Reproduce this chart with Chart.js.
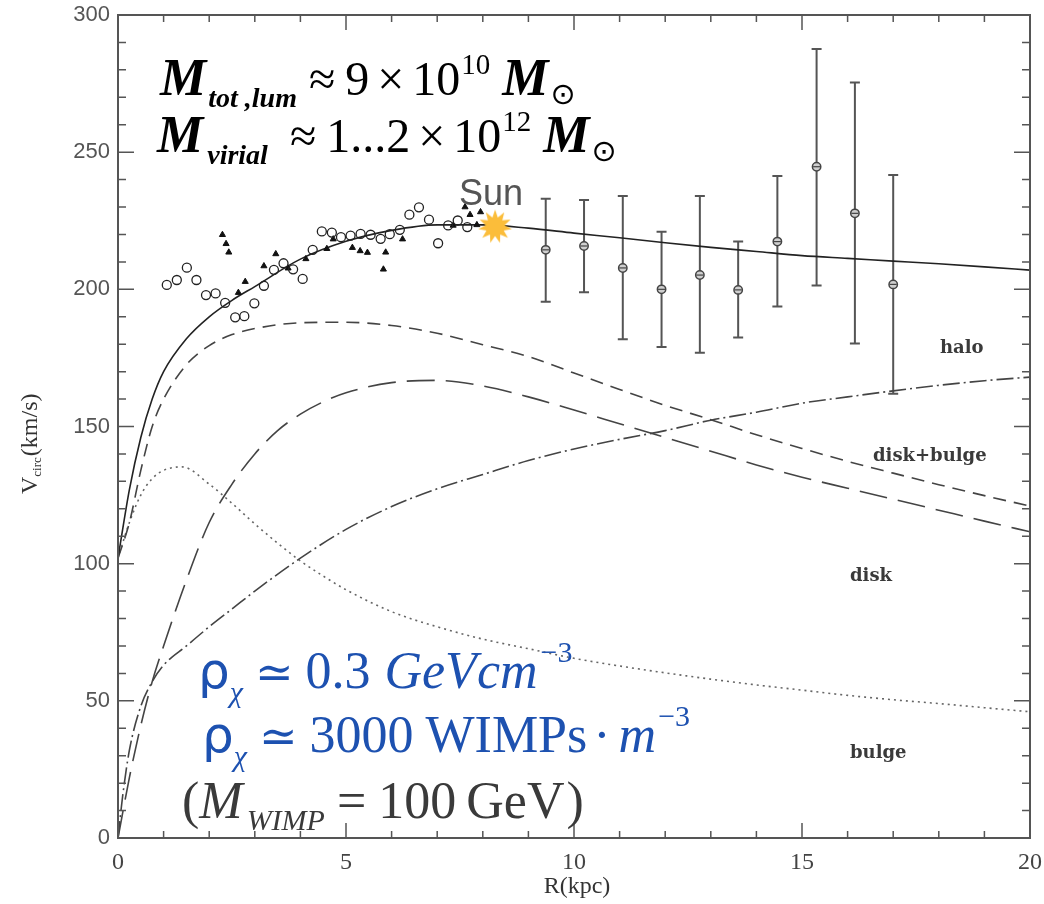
<!DOCTYPE html>
<html><head><meta charset="utf-8">
<script src="https://cdn.jsdelivr.net/npm/chart.js@4.4.1/dist/chart.umd.min.js"></script>
<style>html,body{margin:0;padding:0;background:#fff;}#wrap{width:1044px;height:904px;}</style>
</head><body><div id="wrap"><canvas id="c" width="1044" height="904"></canvas></div>
<script>
// ---- data ----
const xTicks = [0, 5, 10, 15, 20];
const yTicks = [0, 50, 100, 150, 200, 250, 300];

const totalR = [0, 0.25, 0.5, 0.75, 1, 1.5, 2, 2.5, 3, 4, 5, 6, 7, 8, 9, 10, 11, 12, 13, 14, 15, 16, 17, 18, 19, 20];
const totalV = [102, 127, 146, 160, 170, 182, 190, 196, 201, 211, 217.5, 221.5, 223.5, 223.5, 222.3, 220.5, 218.8, 217, 215.3, 213.8, 212.3, 211.3, 210.3, 209.3, 208.2, 207];

const diskBulgeR = [0, 0.25, 0.5, 0.75, 1, 1.5, 2, 2.5, 3, 4, 5, 6, 7, 8, 9, 10, 11, 12, 13, 14, 15, 16, 17, 18, 19, 20];
const diskBulgeV = [102, 115, 134, 150, 160, 172.5, 179.5, 183.5, 185.7, 187.8, 188, 186.8, 184, 179.8, 175.5, 169.5, 163.5, 157.7, 152.5, 147, 142, 137.3, 133, 128.8, 124.8, 121];

const diskR = [0, 0.25, 0.5, 0.75, 1, 1.5, 2, 2.5, 3, 3.5, 4, 4.5, 5, 6, 7, 8, 9, 10, 11, 12, 13, 14, 15, 16, 17, 18, 19, 20];
const diskV = [0, 22, 41, 57, 70, 94, 115, 129, 140, 148.5, 154.5, 159, 162.3, 166, 166.8, 164.8, 160.8, 156, 151, 146, 141, 136, 131.5, 127.5, 123.5, 119.5, 115.5, 111.6];

const haloR = [0, 0.1, 0.25, 0.5, 0.75, 1, 1.5, 2, 2.5, 3, 4, 5, 6, 7, 8, 9, 10, 11, 12, 13, 14, 15, 16, 17, 18, 19, 20];
const haloV = [0, 15, 32, 48, 57, 63, 70, 77, 83.5, 90, 102, 112.5, 120.8, 127.3, 132.5, 137.6, 141.8, 145.3, 148.5, 152.3, 155.2, 158.5, 160.8, 163, 165, 166.7, 168];

const bulgeR = [0, 0.25, 0.5, 0.75, 1, 1.4, 2, 2.5, 3, 3.5, 4, 4.5, 5, 6, 7, 8, 9, 10, 11, 12, 13, 14, 15, 16, 17, 18, 19, 20];
const bulgeV = [102, 115, 125, 131, 134, 135.3, 129, 122, 114.5, 107.5, 101, 95.5, 90.5, 82.5, 77, 72.5, 69, 65.5, 62.7, 60.2, 57.9, 55.8, 53.9, 52, 50.4, 49, 47.5, 46];

const circleR = [1.07, 1.29, 1.51, 1.72, 1.93, 2.14, 2.35, 2.57, 2.77, 2.99, 3.2, 3.42, 3.63, 3.84, 4.05, 4.27, 4.47, 4.69, 4.89, 5.1, 5.32, 5.54, 5.76, 5.96, 6.18, 6.39, 6.6, 6.82, 7.02, 7.24, 7.45, 7.66];
const circleV = [201.6, 203.4, 207.9, 203.4, 197.9, 198.5, 195.1, 189.8, 190.2, 194.9, 201.3, 207.1, 209.5, 207.3, 203.8, 214.4, 221.1, 220.7, 219, 219.6, 220.2, 219.9, 218.4, 220.1, 221.7, 227.2, 229.9, 225.4, 216.8, 223.3, 225.1, 222.7];

const triR = [2.29, 2.37, 2.43, 2.64, 2.79, 3.2, 3.46, 3.73, 4.12, 4.58, 4.72, 5.14, 5.31, 5.47, 5.87, 5.82, 6.24, 7.61, 7.72, 7.95, 7.35, 7.87];
const triV = [219.9, 216.6, 213.5, 198.8, 202.8, 208.5, 212.9, 207.7, 211.1, 214.8, 218.3, 215.2, 214, 213.4, 213.5, 207.3, 218.3, 230, 227.2, 228.2, 223.3, 223.5];

const errR = [9.38, 10.22, 11.07, 11.92, 12.76, 13.6, 14.46, 15.32, 16.16, 17.0];
const errV = [214.4, 215.8, 207.8, 200, 205.2, 199.8, 217.4, 244.7, 227.7, 201.8];
const errHi = [233, 232.6, 234, 221, 234, 217.4, 241.3, 287.6, 275.4, 241.7];
const errLo = [195.5, 198.9, 181.8, 179, 176.9, 182.4, 193.7, 201.4, 180.3, 161.9];

const sunR = [8.27];
const sunV = [222.9];

// ---- helpers ----
const pts = (xs, ys) => xs.map((x, i) => ({x: x, y: ys[i]}));

function makeStar() {
  const c = document.createElement('canvas');
  c.width = 36; c.height = 36;
  const g = c.getContext('2d');
  const n = 11, ro = 17, ri = 9.5;
  g.beginPath();
  for (let i = 0; i < 2 * n; i++) {
    const r = i % 2 === 0 ? ro : ri;
    const a = -Math.PI / 2 + i * Math.PI / n;
    const px = 18 + r * Math.cos(a), py = 18 + r * Math.sin(a);
    if (i === 0) g.moveTo(px, py); else g.lineTo(px, py);
  }
  g.closePath();
  g.fillStyle = '#fbbd3a';
  g.fill();
  return c;
}

function lineDs(label, xs, ys, dash, color, order) {
  return {
    label: label, data: pts(xs, ys), showLine: true, pointRadius: 0,
    borderColor: color, borderWidth: 1.6, borderDash: dash,
    cubicInterpolationMode: 'monotone', fill: false, order: order
  };
}

function drawRich(ctx, x, y, segs) {
  let cx = x;
  segs.forEach(s => {
    ctx.font = s.f;
    ctx.fillStyle = s.c || '#000';
    cx += (s.gap || 0);
    ctx.fillText(s.t, cx, y + (s.dy || 0));
    cx += ctx.measureText(s.t).width;
  });
}

const frameTicks = {
  id: 'frameTicks',
  beforeDatasetsDraw(chart) {
    const {ctx, scales: {x, y}} = chart;
    ctx.save();
    ctx.strokeStyle = '#555';
    ctx.lineWidth = 2;
    errR.forEach((r, i) => {
      const px = x.getPixelForValue(r);
      const ph = y.getPixelForValue(errHi[i]);
      const pl = y.getPixelForValue(errLo[i]);
      ctx.beginPath();
      ctx.moveTo(px, ph); ctx.lineTo(px, pl);
      ctx.moveTo(px - 5, ph); ctx.lineTo(px + 5, ph);
      ctx.moveTo(px - 5, pl); ctx.lineTo(px + 5, pl);
      ctx.stroke();
    });
    ctx.restore();
  },
  afterDatasetsDraw(chart) {
    const {ctx, chartArea: a, scales: {x, y}} = chart;
    ctx.save();
    ctx.strokeStyle = '#555';
    ctx.lineWidth = 1.5;
    for (let i = 0; i <= 20; i++) {
      const px = x.getPixelForValue(i);
      const L = i % 5 === 0 ? 15 : 7;
      ctx.beginPath();
      ctx.moveTo(px, a.bottom); ctx.lineTo(px, a.bottom - L);
      ctx.moveTo(px, a.top); ctx.lineTo(px, a.top + L);
      ctx.stroke();
    }
    for (let v = 0; v <= 300; v += 10) {
      const py = y.getPixelForValue(v);
      const L = v % 50 === 0 ? 16 : 8;
      ctx.beginPath();
      ctx.moveTo(a.left, py); ctx.lineTo(a.left + L, py);
      ctx.moveTo(a.right, py); ctx.lineTo(a.right - L, py);
      ctx.stroke();
    }
    ctx.lineWidth = 2;
    ctx.strokeRect(a.left, a.top, a.right - a.left, a.bottom - a.top);
    // small bar inside binned points
    ctx.strokeStyle = '#444';
    ctx.lineWidth = 1.2;
    errR.forEach((r, i) => {
      const px = x.getPixelForValue(r), py = y.getPixelForValue(errV[i]);
      ctx.beginPath(); ctx.moveTo(px - 3.5, py); ctx.lineTo(px + 3.5, py); ctx.stroke();
    });
    ctx.restore();
  }
};

const texts = {
  id: 'texts',
  afterDraw(chart) {
    const ctx = chart.ctx;
    ctx.save();
    ctx.textBaseline = 'alphabetic';
    ctx.textAlign = 'left';
    const MB = 'italic bold 52px "Liberation Serif"';
    const SB = 'italic bold 28px "Liberation Serif"';
    const R48 = '48px "Liberation Serif"';
    const R29 = '29px "Liberation Serif"';
    const SUN = '30px "DejaVu Sans"';
    drawRich(ctx, 160, 95, [
      {t: 'M', f: MB}, {t: 'tot ,lum', f: SB, dy: 12, gap: 2},
      {t: '≈', f: R48, gap: 12}, {t: '9', f: R48, gap: 10}, {t: '×', f: R48, gap: 8},
      {t: '10', f: R48, gap: 8}, {t: '10', f: R29, dy: -21, gap: 1},
      {t: 'M', f: MB, gap: 12}, {t: '⊙', f: SUN, dy: 9, gap: 2}
    ]);
    drawRich(ctx, 157, 152, [
      {t: 'M', f: MB}, {t: 'virial', f: SB, dy: 12, gap: 4},
      {t: '≈', f: R48, gap: 22}, {t: '1...2', f: R48, gap: 10}, {t: '×', f: R48, gap: 8},
      {t: '10', f: R48, gap: 8}, {t: '12', f: R29, dy: -21, gap: 1},
      {t: 'M', f: MB, gap: 12}, {t: '⊙', f: SUN, dy: 9, gap: 2}
    ]);
    // blue lines
    const B = '#1d51b0';
    const RHO = '50px "DejaVu Sans"';
    const CHI = 'italic 30px "Liberation Serif"';
    const N52 = '52px "Liberation Serif"';
    const I52 = 'italic 52px "Liberation Serif"';
    const SIM = '46px "DejaVu Serif"';
    const SUP = '30px "Liberation Serif"';
    drawRich(ctx, 198, 688, [
      {t: 'ρ', f: RHO, c: B}, {t: 'χ', f: CHI, c: B, dy: 14, gap: 0},
      {t: '≃', f: SIM, c: B, gap: 12}, {t: '0.3', f: N52, c: B, gap: 12},
      {t: 'GeVcm', f: I52, c: B, gap: 14}, {t: '−3', f: SUP, c: B, dy: -26, gap: 3}
    ]);
    drawRich(ctx, 202, 752, [
      {t: 'ρ', f: RHO, c: B}, {t: 'χ', f: CHI, c: B, dy: 14, gap: 0},
      {t: '≃', f: SIM, c: B, gap: 12}, {t: '3000', f: N52, c: B, gap: 12},
      {t: 'WIMPs', f: N52, c: B, gap: 12}, {t: '·', f: N52, c: B, gap: 6},
      {t: 'm', f: I52, c: B, gap: 8}, {t: '−3', f: SUP, c: B, dy: -26, gap: 2}
    ]);
    const G = '#3a3a3a';
    drawRich(ctx, 182, 818, [
      {t: '(', f: N52, c: G}, {t: 'M', f: I52, c: G},
      {t: 'WIMP', f: 'italic 30px "Liberation Serif"', c: G, dy: 12, gap: 4},
      {t: '=', f: N52, c: G, gap: 12}, {t: '100', f: N52, c: G, gap: 12},
      {t: 'GeV', f: N52, c: G, gap: 10}, {t: ')', f: N52, c: G, gap: 2}
    ]);
    // Sun label
    ctx.font = '36px "Liberation Sans"';
    ctx.fillStyle = '#555';
    ctx.fillText('Sun', 459, 205);
    // component labels
    ctx.font = 'bold 18px "DejaVu Serif"';
    ctx.fillStyle = '#3a3a3a';
    ctx.fillText('halo', 940, 353);
    ctx.fillText('disk+bulge', 873, 461);
    ctx.fillText('disk', 850, 581);
    ctx.fillText('bulge', 850, 758);
    // axis titles
    ctx.fillStyle = '#333';
    ctx.font = '24px "Liberation Serif"';
    ctx.textAlign = 'center';
    ctx.fillText('R(kpc)', 577, 893);
    ctx.textAlign = 'left';
    ctx.save();
    ctx.translate(37, 494);
    ctx.rotate(-Math.PI / 2);
    drawRich(ctx, 0, 0, [
      {t: 'V', f: '24px "Liberation Serif"', c: '#333'},
      {t: 'circ', f: '13px "Liberation Serif"', c: '#333', dy: 4},
      {t: '(km/s)', f: '24px "Liberation Serif"', c: '#333', gap: 1}
    ]);
    ctx.restore();
    ctx.restore();
  }
};

const star = makeStar();

new Chart(document.getElementById('c'), {
  type: 'scatter',
  data: {
    datasets: [
      {label: 'Sun', data: pts(sunR, sunV), pointStyle: star, pointRadius: 18, order: 0},
      {label: 'binned', data: pts(errR, errV), pointStyle: 'circle', pointRadius: 4.2, borderColor: '#444', borderWidth: 1.5, backgroundColor: '#cfcfcf', order: 1},
      {label: 'circles', data: pts(circleR, circleV), pointStyle: 'circle', pointRadius: 4.5, borderColor: '#222', borderWidth: 1.3, backgroundColor: 'rgba(0,0,0,0)', order: 2},
      {label: 'triangles', data: pts(triR, triV), pointStyle: 'triangle', pointRadius: 3.5, borderColor: '#111', borderWidth: 1, backgroundColor: '#111', order: 3},
      lineDs('total', totalR, totalV, [], '#222', 4),
      lineDs('disk+bulge', diskBulgeR, diskBulgeV, [13, 8], '#444', 5),
      lineDs('disk', diskR, diskV, [28, 11], '#444', 6),
      lineDs('halo', haloR, haloV, [17, 4, 2, 4], '#444', 7),
      lineDs('bulge', bulgeR, bulgeV, [2, 4], '#666', 8)
    ]
  },
  options: {
    responsive: false,
    animation: false,
    layout: {autoPadding: false, padding: {top: 15, right: 14, left: 0, bottom: 0}},
    plugins: {legend: {display: false}, tooltip: {enabled: false}},
    scales: {
      x: {
        type: 'linear', min: 0, max: 20,
        afterFit: s => { s.height = 66; s.paddingLeft = 0; s.paddingRight = 0; },
        afterBuildTicks: s => { s.ticks = xTicks.map(v => ({value: v})); },
        grid: {display: false, drawTicks: false},
        border: {display: false},
        ticks: {padding: 10, color: '#444', font: {family: 'Liberation Serif', size: 24}, maxRotation: 0, autoSkip: false}
      },
      y: {
        type: 'linear', min: 0, max: 300,
        afterFit: s => { s.width = 118; s.paddingTop = 0; s.paddingBottom = 0; },
        afterBuildTicks: s => { s.ticks = yTicks.map(v => ({value: v})); },
        grid: {display: false, drawTicks: false},
        border: {display: false},
        ticks: {padding: 8, color: '#555', font: {family: 'Liberation Sans', size: 22}, autoSkip: false}
      }
    }
  },
  plugins: [frameTicks, texts]
});
</script>
</body></html>
